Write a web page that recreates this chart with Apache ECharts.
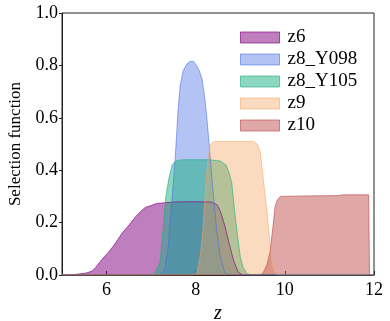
<!DOCTYPE html>
<html>
<head>
<meta charset="utf-8">
<script src="https://cdn.jsdelivr.net/npm/echarts@6/dist/echarts.min.js"></script>
<style>
  html, body { margin: 0; padding: 0; background: #fff; }
  #main { width: 390px; height: 321px; }
</style>
</head>
<body>
<div id="main"></div>
<script>
// selection functions
var z6X = [5, 5.3, 5.55, 5.68, 5.75, 5.85, 5.95, 6.05, 6.15, 6.25, 6.35, 6.5, 6.65, 6.78, 6.87, 7.0, 7.1, 7.3, 7.6, 8.0, 8.35, 8.48, 8.56, 8.65, 8.75, 8.85, 8.95, 9.05, 12];
var z6Y = [0, 0.002, 0.008, 0.015, 0.028, 0.05, 0.07, 0.088, 0.11, 0.135, 0.16, 0.19, 0.222, 0.245, 0.258, 0.265, 0.272, 0.276, 0.279, 0.28, 0.278, 0.268, 0.24, 0.19, 0.12, 0.055, 0.012, 0, 0];

var z8aX = [5, 7.2, 7.3, 7.38, 7.45, 7.52, 7.56, 7.6, 7.65, 7.72, 7.8, 7.87, 7.95, 8.02, 8.08, 8.14, 8.2, 8.25, 8.3, 8.34, 8.4, 8.47, 8.55, 8.65, 8.75, 12];
var z8aY = [0, 0, 0.02, 0.1, 0.25, 0.4, 0.5, 0.62, 0.72, 0.78, 0.805, 0.815, 0.815, 0.8, 0.78, 0.75, 0.68, 0.6, 0.5, 0.42, 0.3, 0.17, 0.07, 0.01, 0, 0];

var z8bX = [5, 7.05, 7.12, 7.2, 7.27, 7.33, 7.4, 7.47, 7.55, 7.7, 8.3, 8.55, 8.68, 8.75, 8.81, 8.87, 8.93, 9.0, 9.06, 9.15, 9.25, 12];
var z8bY = [0, 0, 0.02, 0.05, 0.18, 0.3, 0.37, 0.42, 0.435, 0.44, 0.44, 0.435, 0.42, 0.39, 0.35, 0.25, 0.16, 0.07, 0.03, 0.005, 0, 0];

var z9X = [5, 7.95, 8.03, 8.1, 8.16, 8.22, 8.27, 8.33, 8.42, 9.3, 9.38, 9.45, 9.52, 9.6, 9.67, 9.73, 9.8, 9.9, 12];
var z9Y = [0, 0, 0.01, 0.07, 0.17, 0.32, 0.44, 0.5, 0.51, 0.51, 0.5, 0.47, 0.36, 0.24, 0.11, 0.03, 0.005, 0, 0];

var z10X = [5, 9.45, 9.52, 9.6, 9.67, 9.73, 9.78, 9.83, 9.9, 10.5, 11.2, 11.3, 11.88, 11.9, 12];
var z10Y = [0, 0, 0.01, 0.04, 0.09, 0.18, 0.26, 0.285, 0.3, 0.302, 0.303, 0.306, 0.306, 0, 0];

var xTicks = [6, 8, 10, 12];

var names = ['z6', 'z8_Y098', 'z8_Y105', 'z9', 'z10'];
var fills = ['rgba(128,0,128,0.5)', 'rgba(65,105,225,0.4)', 'rgba(26,175,128,0.5)', 'rgba(244,164,96,0.4)', 'rgba(192,80,77,0.5)'];
var lines = ['rgba(128,0,128,0.65)', 'rgba(65,105,225,0.55)', 'rgba(26,175,128,0.6)', 'rgba(244,164,96,0.55)', 'rgba(192,80,77,0.65)'];
var xs = [z6X, z8aX, z8bX, z9X, z10X];
var ys = [z6Y, z8aY, z8bY, z9Y, z10Y];

function zip(a, b) {
  var out = [];
  for (var i = 0; i < a.length; i++) out.push([a[i], b[i]]);
  return out;
}

var font = 'Liberation Serif';
var series = [];
var legendData = [];
for (var i = 0; i < names.length; i++) {
  series.push({
    name: names[i],
    type: 'line',
    data: zip(xs[i], ys[i]),
    symbol: 'none',
    smooth: false,
    lineStyle: { color: lines[i], width: 1 },
    itemStyle: { color: fills[i] },
    areaStyle: { color: fills[i], opacity: 1 }
  });
  legendData.push({
    name: names[i],
    itemStyle: { color: fills[i], borderColor: lines[i], borderWidth: 1 }
  });
}

var chart = echarts.init(document.getElementById('main'), null, { renderer: 'canvas' });
var option = {
  animation: false,
  textStyle: { fontFamily: font },
  grid: {
    left: 62, top: 13, right: 16, bottom: 46,
    outerBoundsMode: 'none',
    containLabel: false,
    show: true, borderColor: '#222', borderWidth: 1, backgroundColor: 'transparent'
  },
  legend: {
    data: legendData,
    orient: 'vertical',
    left: 240,
    top: 28,
    padding: 0,
    icon: 'rect',
    itemWidth: 39,
    itemHeight: 11,
    itemGap: 3,
    textStyle: { fontFamily: font, fontSize: 19, lineHeight: 19, color: '#000', padding: [0, 0, 0, 3] }
  },
  xAxis: {
    type: 'value',
    min: 5,
    max: 12,
    name: '{i|z}',
    nameLocation: 'middle',
    nameGap: 27,
    nameTextStyle: {
      fontFamily: font, fontSize: 20, color: '#000',
      rich: { i: { fontFamily: font, fontSize: 20, fontStyle: 'italic', color: '#000' } }
    },
    splitLine: { show: false },
    axisLine: { show: true, lineStyle: { color: '#222', width: 1 } },
    axisTick: { show: true, inside: true, length: 4, customValues: xTicks, lineStyle: { color: '#222' } },
    axisLabel: { customValues: xTicks, fontFamily: font, fontSize: 18, color: '#000', margin: 6 }
  },
  yAxis: {
    type: 'value',
    min: 0,
    max: 1,
    interval: 0.2,
    name: 'Selection function',
    nameLocation: 'middle',
    nameGap: 38,
    nameTextStyle: { fontFamily: font, fontSize: 17, color: '#000' },
    splitLine: { show: false },
    axisLine: { show: true, lineStyle: { color: '#222', width: 1 } },
    axisTick: { show: true, inside: false, length: 3, lineStyle: { color: '#222' } },
    axisLabel: {
      fontFamily: font, fontSize: 18, color: '#000', margin: 4,
      formatter: function (v) { return v.toFixed(1); }
    }
  },
  series: series
};

function draw() {
  chart.clear();
  chart.setOption(option);
}
draw();
// system fonts may not be ready on the first canvas paint, so paint again once they are
if (document.fonts && document.fonts.load) {
  Promise.all([
    document.fonts.load('18px "Liberation Serif"'),
    document.fonts.load('italic 20px "Liberation Serif"')
  ]).then(draw, draw);
}
setTimeout(draw, 100);
</script>
</body>
</html>
